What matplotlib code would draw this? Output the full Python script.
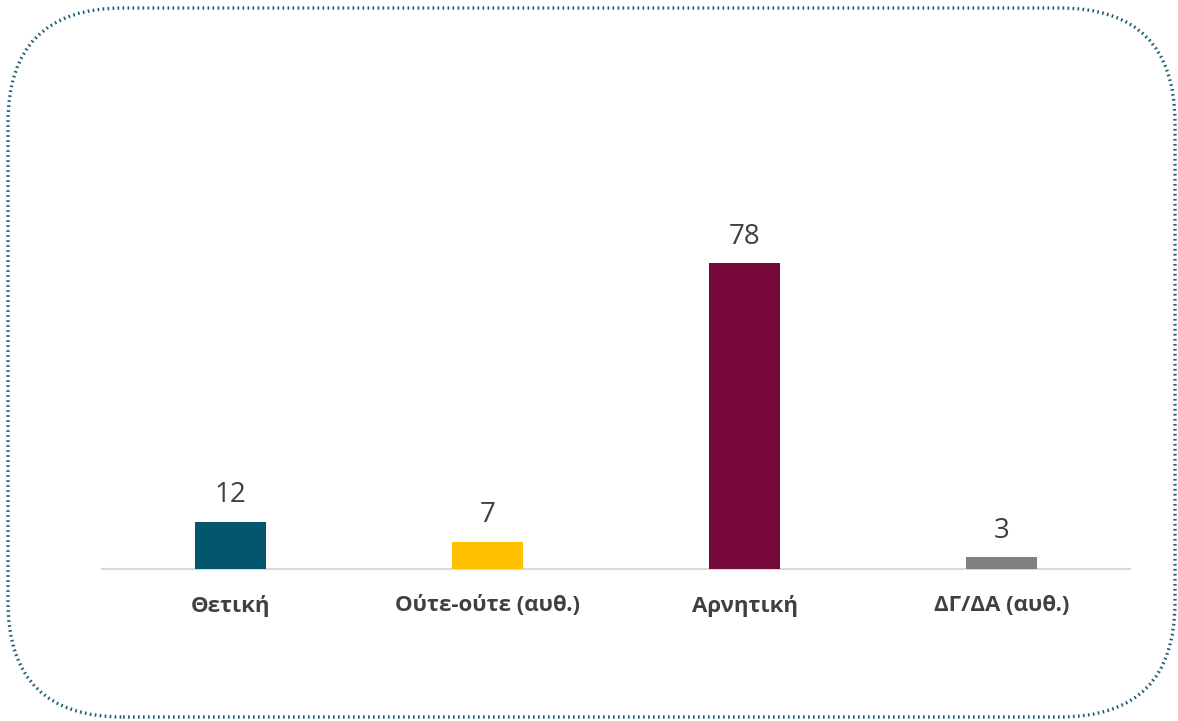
import matplotlib
matplotlib.use('Agg')
from matplotlib import pyplot as plt
from matplotlib.patches import FancyBboxPatch

categories = ['Θετική', 'Ούτε-ούτε (αυθ.)', 'Αρνητική', 'ΔΓ/ΔΑ (αυθ.)']
values = [12, 7, 78, 3]
colors = ['#03566E', '#FFC000', '#76093A', '#808080']

plt.rcParams['font.family'] = ['Open Sans', 'DejaVu Sans']

W, H = 1178, 721
fig = plt.figure(figsize=(W / 100, H / 100), dpi=100)

# background axes in pixel units, only for the rounded dotted frame
bg = fig.add_axes([0, 0, 1, 1])
bg.set_xlim(0, W)
bg.set_ylim(0, H)
bg.axis('off')
frame = FancyBboxPatch((8, 4), 1167, 709,
                       boxstyle='round,pad=0,rounding_size=115',
                       fill=False, edgecolor='#1B5E78', linewidth=2.4,
                       linestyle=(0, (0.5, 1.0)))
bg.add_patch(frame)

# axes: x 102..1130 px, baseline at y=569 px
ax = fig.add_axes([102 / W, (H - 569) / H, 1028 / W, 353 / H])
x = range(len(categories))
bars = ax.bar(x, values, width=0.275, color=colors, zorder=3)
ax.set_xlim(-0.5, 3.5)
ax.set_ylim(0, 90)

for b, v in zip(bars, values):
    ax.annotate(str(v), (b.get_x() + b.get_width() / 2, v),
                xytext=(0, 9), textcoords='offset points',
                ha='center', va='bottom', fontsize=20, color='#404040')

ax.set_xticks(list(x))
ax.set_xticklabels(categories, fontsize=16, fontweight='bold', color='#404040')
ax.tick_params(axis='x', length=0, pad=19)
ax.set_yticks([])
for s in ['top', 'right', 'left']:
    ax.spines[s].set_visible(False)
ax.spines['bottom'].set_color('#D9D9D9')
ax.spines['bottom'].set_linewidth(1.5)
ax.patch.set_alpha(0)

fig.savefig('out.png', dpi=100)
